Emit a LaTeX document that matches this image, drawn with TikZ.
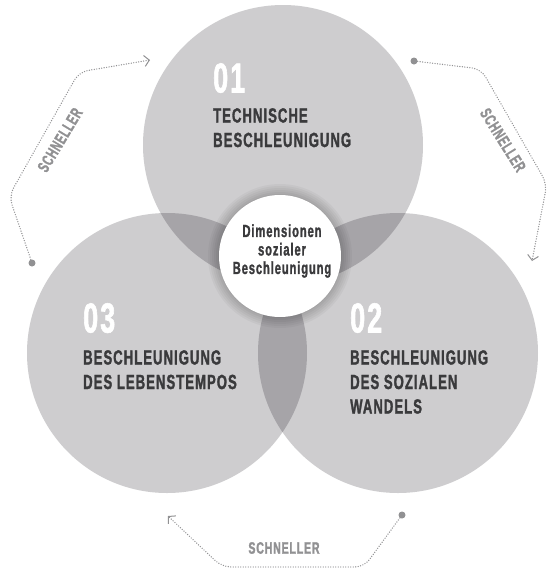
\documentclass[tikz,border=0pt]{standalone}
\usepackage{fontspec}
\newfontfamily\condfont[FakeStretch=0.64,LetterSpace=5,BoldFeatures={FakeBold=1.4}]{Liberation Sans}
\usetikzlibrary{arrows.meta}

\definecolor{discgray}{RGB}{206,205,207}
\definecolor{lensgray}{RGB}{166,164,168}
\definecolor{titlegray}{RGB}{58,58,60}
\definecolor{flowgray}{RGB}{145,145,147}

\tikzset{
  disc/.style={circle, fill=discgray, minimum size=280pt, inner sep=0pt},
  core/.style={circle, fill=white, minimum size=122pt, inner sep=0pt},
  number/.style={anchor=north west, inner sep=0pt, text=white,
    font=\condfont\bfseries\fontsize{42}{42}\selectfont},
  title/.style={anchor=north west, inner sep=0pt, align=left, text=titlegray,
    font=\condfont\bfseries\fontsize{20.5}{24.5}\selectfont},
  coretext/.style={inner sep=0pt, align=center, text=titlegray,
    font=\condfont\bfseries\fontsize{17.5}{18.5}\selectfont},
  hint/.style={inner sep=0pt, text=flowgray,
    font=\condfont\bfseries\fontsize{16.5}{16.5}\selectfont},
  flow/.style={draw=flowgray, line width=1.4pt, dash pattern=on 0pt off 2.5pt,
    line cap=round, rounded corners=9pt,
    -{Straight Barb[length=5pt,width=11pt,line width=1pt]}},
  flowstart/.style={circle, fill=flowgray, minimum size=7pt, inner sep=0pt},
  halo/.style={fill=black, fill opacity=0.035},
}

\begin{document}
\begin{tikzpicture}[x=1pt,y=-1pt]
  \useasboundingbox (0,0) rectangle (548,574);
  \fill[white] (0,0) rectangle (548,574);

  % the three dimensions
  \coordinate (m1) at (283,145);
  \coordinate (m2) at (398,353);
  \coordinate (m3) at (167,353);
  \node[disc] (d1) at (m1) {};
  \node[disc] (d2) at (m2) {};
  \node[disc] (d3) at (m3) {};

  % pairwise overlaps
  \begin{scope}
    \clip (m1) circle (140pt);
    \fill[lensgray] (m2) circle (140pt);
    \fill[lensgray] (m3) circle (140pt);
  \end{scope}
  \begin{scope}
    \clip (m2) circle (140pt);
    \fill[lensgray] (m3) circle (140pt);
  \end{scope}

  % centre with a soft halo
  \coordinate (mc) at (280,256);
  \foreach \r in {62,64,66,68,70,72} {
    \fill[halo] (mc) circle (\r pt);
  }
  \node[core] (core) at (mc) {};
  \node[coretext] (coretxt) at (282,251) {Dimensionen\\sozialer\\Beschleunigung};

  % labels of the dimensions
  \node[number] (n1) at (213,63) {01};
  \node[title]  (t1) at (213,108) {TECHNISCHE\\BESCHLEUNIGUNG};
  \node[number] (n2) at (350,303) {02};
  \node[title]  (t2) at (350,350) {BESCHLEUNIGUNG\\DES SOZIALEN\\WANDELS};
  \node[number] (n3) at (83,303) {03};
  \node[title]  (t3) at (83,350) {BESCHLEUNIGUNG\\DES LEBENSTEMPOS};

  % cycle arrows
  \node[flowstart] (sL) at (32,263) {};
  \coordinate (eL) at (150,60);
  \draw[flow] (sL) -- (9,196) -- (79,72) -- (eL);
  \node[hint, rotate=59] (hL) at (60,140) {SCHNELLER};

  \node[flowstart] (sR) at (414,61) {};
  \coordinate (eR) at (532,261);
  \draw[flow] (sR) -- (481,69) -- (547,184) -- (eR);
  \node[hint, rotate=-58] (hR) at (503,140) {SCHNELLER};

  \node[flowstart] (sB) at (402,515) {};
  \coordinate (eB) at (168,516);
  \draw[flow] (sB) -- (364,567) -- (222,567) -- (eB);
  \node[hint] (hB) at (284,548) {SCHNELLER};
\end{tikzpicture}
\end{document}
